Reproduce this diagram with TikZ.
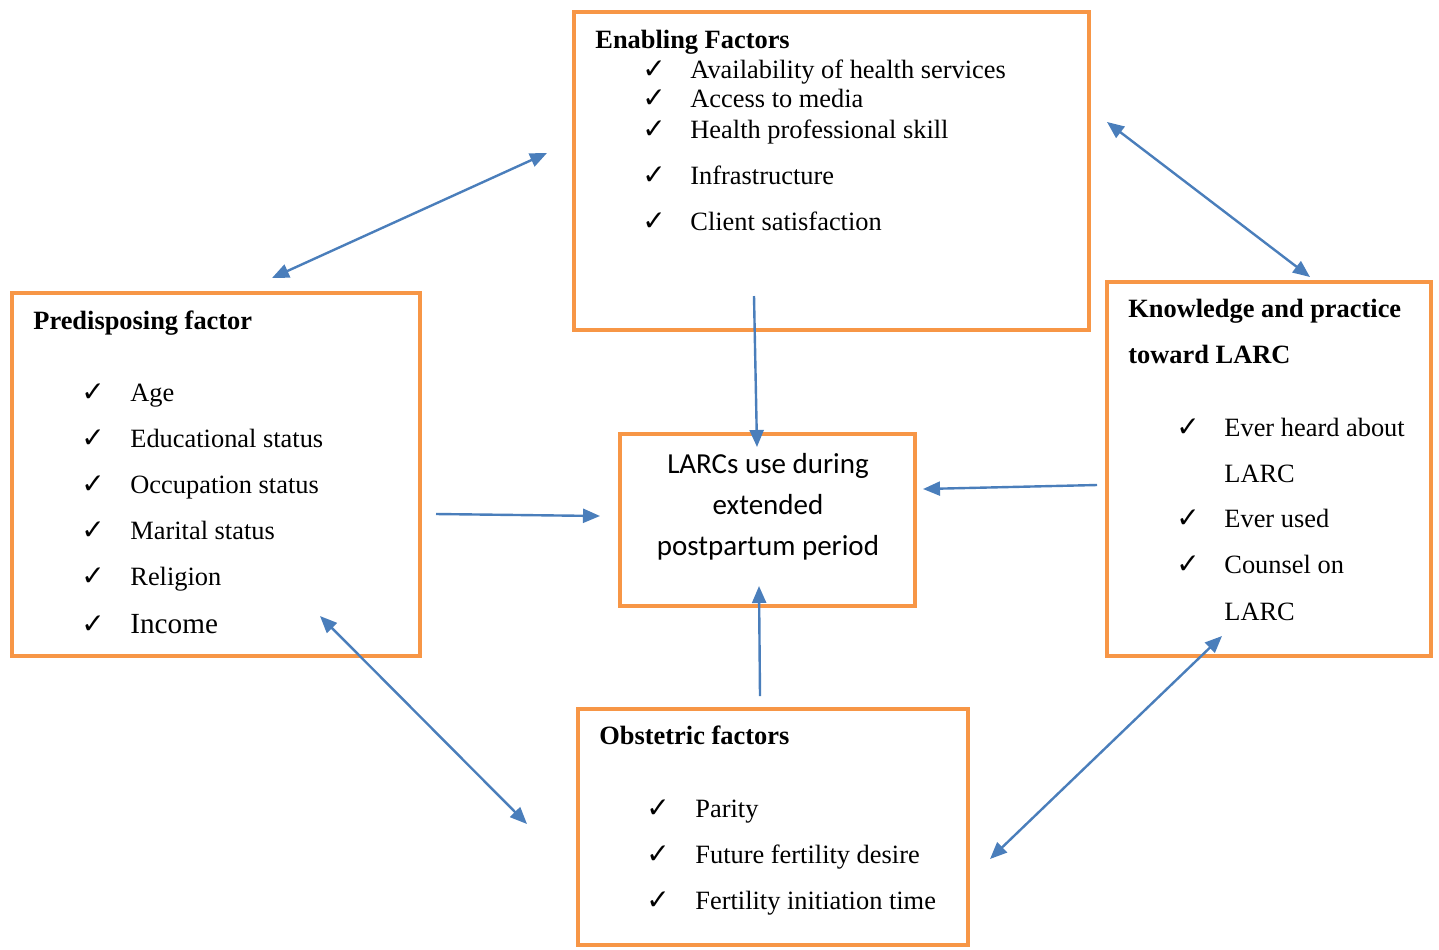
\documentclass[tikz,border=0pt]{standalone}
\usepackage{fontspec}
\setmainfont{Liberation Serif}
\newfontfamily\calib{Carlito}
\newfontfamily\symfont{DejaVu Sans}
\usetikzlibrary{arrows.meta,fit}
\definecolor{boxorange}{HTML}{F79646}
\definecolor{linkblue}{HTML}{4A7EBB}

\begin{document}
\begin{tikzpicture}[x=0.5pt,y=-0.5pt,
  >={Triangle[length=8.5pt,width=7pt]},
  box/.style={draw=boxorange,line width=2pt,inner sep=0pt},
  head/.style={anchor=base west,inner sep=0pt,font=\fontsize{13.2}{15}\selectfont\bfseries},
  item/.style={anchor=base west,inner sep=0pt,font=\fontsize{13.2}{15}\selectfont},
  chk/.style={anchor=base west,inner sep=0pt,font=\symfont\fontsize{14}{16}\selectfont},
  link/.style={draw=linkblue,line width=1.2pt,->},
  twoway/.style={link,<->}]

\useasboundingbox (0,0) rectangle (1439,949);

% Boxes
\node[box,fit={(574,12) (1089,330)}] (enab) {};
\node[box,fit={(12,293) (420,656)}] (pred) {};
\node[box,fit={(1107,282) (1431,656)}] (know) {};
\node[box,fit={(578,709) (968,945)}] (obst) {};
\node[box,fit={(620,434) (915,606)}] (larc) {};

% Enabling factors
\node[head] (enab-h) at (595,48) {Enabling Factors};
\foreach \yy/\t [count=\i] in {78/Availability of health services,107/Access to media,
    138/Health professional skill,184/Infrastructure,230/Client satisfaction}{
  \node[chk] (enab-c\i) at (642,\yy) {✓};
  \node[item] (enab-t\i) at (690,\yy) {\t};
}

% Predisposing factor
\node[head] (pred-h) at (33,329) {Predisposing factor};
\foreach \yy/\t [count=\i] in {401/Age,447/Educational status,493/Occupation status,
    539/Marital status,585/Religion}{
  \node[chk] (pred-c\i) at (81,\yy) {✓};
  \node[item] (pred-t\i) at (130,\yy) {\t};
}
\node[chk] (pred-c6) at (81,633) {✓};
\node[item,font=\fontsize{14.6}{16}\selectfont] (pred-t6) at (130,633) {Income};

% Knowledge and practice
\node[head] (know-h1) at (1128,317) {Knowledge and practice};
\node[head] (know-h2) at (1128,363) {toward LARC};
\foreach \yy/\t [count=\i] in {436/Ever heard about,527/Ever used,573/Counsel on}{
  \node[chk] (know-c\i) at (1176,\yy) {✓};
  \node[item] (know-t\i) at (1224,\yy) {\t};
}
\node[item] (know-t4) at (1224,482) {LARC};
\node[item] (know-t5) at (1224,620) {LARC};

% Obstetric factors
\node[head] (obst-h) at (599,744) {Obstetric factors};
\foreach \yy/\t [count=\i] in {817/Parity,863/Future fertility desire,909/Fertility initiation time}{
  \node[chk] (obst-c\i) at (646,\yy) {✓};
  \node[item] (obst-t\i) at (695,\yy) {\t};
}

% Outcome
\node[align=center,inner sep=0pt,font=\calib\fontsize{14.5}{20.5}\selectfont] (larc-t) at (768,507)
  {LARCs use during\\extended\\postpartum period};

% Arrow ends
\coordinate (pe1) at (272,278);  \coordinate (pe2) at (547,153);
\coordinate (ek1) at (1107,122); \coordinate (ek2) at (1310,277);
\coordinate (el1) at (754,296);  \coordinate (el2) at (757,447);
\coordinate (pl1) at (436,514);  \coordinate (pl2) at (600,516);
\coordinate (kl1) at (1097,485); \coordinate (kl2) at (923,489);
\coordinate (ol1) at (760,696);  \coordinate (ol2) at (759,586);
\coordinate (po1) at (320,616);  \coordinate (po2) at (527,824);
\coordinate (ko1) at (990,859);  \coordinate (ko2) at (1222,636);

% Arrows
\draw[twoway] (pe1) -- (pe2);
\draw[twoway] (ek1) -- (ek2);
\draw[link] (el1) -- (el2);
\draw[link] (pl1) -- (pl2);
\draw[link] (kl1) -- (kl2);
\draw[link] (ol1) -- (ol2);
\draw[twoway] (po1) -- (po2);
\draw[twoway] (ko1) -- (ko2);

\end{tikzpicture}
\end{document}
